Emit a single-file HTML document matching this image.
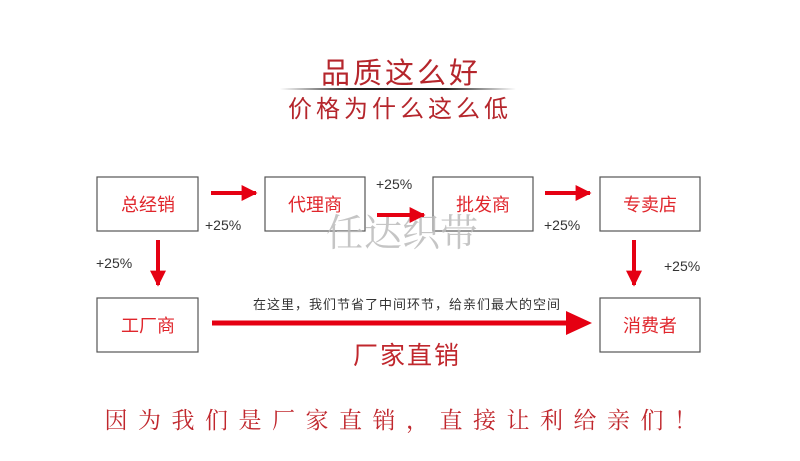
<!DOCTYPE html>
<html><head><meta charset="utf-8"><style>
html,body{margin:0;padding:0;background:#fff;width:800px;height:461px;overflow:hidden}
svg{display:block}
</style></head><body>
<svg width="800" height="461" viewBox="0 0 800 461" xmlns="http://www.w3.org/2000/svg">
<defs>
<linearGradient id="lg" x1="0" x2="1">
<stop offset="0" stop-color="#fff"/><stop offset="0.3" stop-color="#222"/><stop offset="0.7" stop-color="#222"/><stop offset="1" stop-color="#fff"/>
</linearGradient>
<marker id="ah" viewBox="0 0 10 10" refX="9" refY="5" markerWidth="4" markerHeight="4" orient="auto" markerUnits="strokeWidth">
<path d="M0,0 L10,5 L0,10 z" fill="#e50012"/></marker>
</defs>
<g font-family="Liberation Sans, Noto Sans CJK SC, sans-serif">
<text x="401" y="83" text-anchor="middle" font-size="29" fill="#b5262c" letter-spacing="3">品质这么好</text>
<rect x="280" y="88" width="236" height="2" fill="url(#lg)"/>
<text x="400" y="117" text-anchor="middle" font-size="24" fill="#b5262c" letter-spacing="4">价格为什么这么低</text>

<g fill="#fff" stroke="#555" stroke-width="1.2">
<rect x="97" y="177" width="101" height="54"/>
<rect x="265" y="177" width="100" height="54"/>
<rect x="433" y="177" width="100" height="54"/>
<rect x="600" y="177" width="100" height="54"/>
<rect x="97" y="298" width="101" height="54"/>
<rect x="600" y="298" width="100" height="54"/>
</g>
<text x="402" y="246" text-anchor="middle" font-size="38" fill="#bbb" fill-opacity="0.85" font-family="Liberation Serif, Noto Serif CJK SC, serif">任达织带</text>
<g font-size="18" fill="#e0262c" text-anchor="middle">
<text x="148" y="211">总经销</text>
<text x="315" y="211">代理商</text>
<text x="483" y="211">批发商</text>
<text x="650" y="211">专卖店</text>
<text x="148" y="332">工厂商</text>
<text x="650" y="332">消费者</text>
</g>
<g stroke="#e50012" stroke-width="4" fill="none" marker-end="url(#ah)">
<line x1="211" y1="193" x2="256" y2="193"/>
<line x1="377" y1="215" x2="424" y2="215"/>
<line x1="545" y1="193" x2="590" y2="193"/>
<line x1="158" y1="240" x2="158" y2="285"/>
<line x1="634" y1="240" x2="634" y2="285"/>
</g>
<line x1="212" y1="323" x2="572" y2="323" stroke="#e50012" stroke-width="5"/>
<path d="M566,311 L592,323 L566,335 z" fill="#e50012"/>
<g font-size="14" fill="#333">
<text x="205" y="230">+25%</text>
<text x="376" y="189">+25%</text>
<text x="544" y="230">+25%</text>
<text x="96" y="268">+25%</text>
<text x="664" y="271">+25%</text>
</g>
<text x="407" y="309" text-anchor="middle" font-size="13" fill="#333" letter-spacing="1">在这里，我们节省了中间环节，给亲们最大的空间</text>
<text x="407" y="364" text-anchor="middle" font-size="25" fill="#c0272d" letter-spacing="2">厂家直销</text>
<text x="406" y="428" text-anchor="middle" font-size="23" fill="#c0272d" letter-spacing="10.5" font-family="Liberation Serif, Noto Serif CJK SC, serif">因为我们是厂家直销，直接让利给亲们！</text>
</g>
</svg>
</body></html>
